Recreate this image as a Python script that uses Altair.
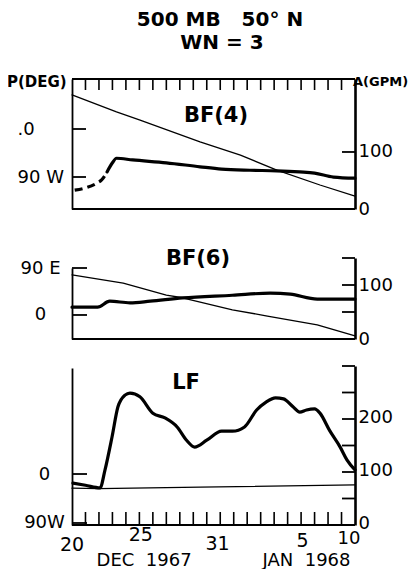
import altair as alt
import pandas as pd

FONT = "DejaVu Sans"
W, H = 283, 446
NB = "\u00a0"

# ---------------- data (day 0 = 20 Dec 1967, day 21 = 10 Jan 1968) ----------------
# BF(4)
bf4_phase_day = [0, 3.3, 5.0, 9.5, 12.5, 15.2, 18.4, 21]
bf4_phase = [64, 32, 17, -24, -49, -77, -105, -126]
bf4_amp_dash_day = [0.2, 1.0, 1.9, 2.2, 2.6]
bf4_amp_dash = [33, 37, 46, 51, 65]
bf4_amp_day = [2.6, 3.0, 3.3, 4.5, 7.0, 9.5, 11.1, 13.2, 15.2, 16.9, 18.0, 19.4, 21]
bf4_amp = [65, 81, 89, 86, 81, 74, 70, 68, 67, 65, 63, 56, 54]

# BF(6)
bf6_phase_day = [0, 3.8, 7.0, 8.2, 11.9, 14.5, 18.2, 21]
bf6_phase = [77, 61, 38, 33, 10, -2, -19, -40]
bf6_amp_day = [0, 1.9, 2.8, 4.3, 5.8, 8.2, 11.9, 14.7, 16.2, 18.2, 21]
bf6_amp = [59, 59, 70, 67, 70, 76, 81, 85, 83, 74, 74]

# LF
lf_phase_day = [0, 2, 9.5, 21]
lf_phase = [-26, -27, -24, -20]
lf_amp_day = [0.07, 1.0, 2.08, 2.45, 2.97, 3.41, 3.93, 4.3, 5.04, 6.0, 6.9, 7.8, 8.5,
              9.1, 10.0, 11.1, 11.9, 12.8, 13.7, 14.4, 15.1, 15.7, 16.4, 16.9, 17.4,
              18.0, 18.4, 19.1, 19.9, 20.4, 21]
lf_amp = [79, 75, 70, 104, 166, 223, 245, 249, 242, 211, 202, 185, 160,
          147, 160, 177, 177, 185, 217, 232, 240, 238, 223, 213, 217,
          219, 211, 179, 147, 123, 104]

# axis ticks / labels
day_ticks = list(range(1, 21))
date_labels = ["20", "25", "31", "5", "10"]
date_label_days = [0, 5.1, 10.8, 17.1, 20.55]
month_labels = ["DEC" + NB * 2 + "1967", "JAN" + NB * 2 + "1968"]
month_label_days = [5.35, 17.4]

p1_left_vals, p1_left_labels = [0, -90], [".0", "90 W"]
p2_left_vals, p2_left_labels = [90, 0], ["90 E", "0"]
p3_left_vals, p3_left_labels = [0, -90], ["0", "90W"]
p1_right_vals, p1_right_labels = [0, 100], ["0", "100"]
p2_right_vals, p2_right_labels = [0, 100], ["0", "100"]
p3_right_vals, p3_right_labels = [0, 100, 200], ["0", "100", "200"]
p1_right_ticks = [100]
p2_right_ticks = [50, 100, 150]
p3_right_ticks = [50, 100, 150, 200, 250, 300]

# ---------------- scales ----------------
xs = alt.Scale(domain=[0, 21], nice=False, zero=False)


def ysc(domain, rng):
    return alt.Scale(domain=domain, range=rng, nice=False, zero=False)


P1_PH = ysc([-150, 93.75], [130, 0])
P1_AM = ysc([0, 228], [130, 0])
P2_PH = ysc([-46, 90], [260, 189])
P2_AM = ysc([0, 150], [260, 179])
P3_PH = ysc([-93.7, 194.8], [446, 289])
P3_AM = ysc([0, 300], [446, 287])


def expr(vals, labels):
    s = "''"
    for v, l in zip(vals, labels):
        s = f"datum.value == {v} ? '{l}' : ({s})"
    return s


def left_axis(vals, labels, align, pad):
    return alt.Axis(orient="left", values=vals, labelExpr=expr(vals, labels),
                    ticks=False, tickSize=0, grid=False, domainColor="black",
                    domainWidth=1.8, labelAlign=align, labelPadding=pad,
                    labelFont=FONT, labelFontSize=18, labelColor="black",
                    labelFlush=False, labelOverlap=False, title=None)


def right_axis(vals, labels, offset=0):
    return alt.Axis(orient="right", values=vals, labelExpr=expr(vals, labels),
                    ticks=False, tickSize=0, grid=False, domainColor="black",
                    domainWidth=2.6, labelAlign="left", labelPadding=3,
                    labelOffset=offset,
                    labelFont=FONT, labelFontSize=18, labelColor="black",
                    labelFlush=False, labelOverlap=False, title=None)


def line(days, vals, scale, width, axis=None, dash=None, interp="monotone"):
    df = pd.DataFrame({"day": days, "v": vals})
    kw = dict(strokeWidth=width, color="black", interpolate=interp,
              strokeCap="round", strokeJoin="round")
    if dash:
        kw["strokeDash"] = dash
        kw["strokeCap"] = "butt"
    return alt.Chart(df).mark_line(**kw).encode(
        x=alt.X("day:Q", scale=xs, axis=None),
        y=alt.Y("v:Q", scale=scale, axis=axis),
    )


def hticks(vals, scale, x0, x1, width=1.8):
    df = pd.DataFrame({"v": vals})
    return alt.Chart(df).mark_rule(color="black", strokeWidth=width).encode(
        y=alt.Y("v:Q", scale=scale, axis=None), x=alt.value(x0), x2=alt.value(x1))


def hline(val, scale, width=1.8):
    df = pd.DataFrame({"v": [val]})
    return alt.Chart(df).mark_rule(color="black", strokeWidth=width).encode(
        y=alt.Y("v:Q", scale=scale, axis=None), x=alt.value(0), x2=alt.value(W))


def text(s, x, y, size, weight="normal", align="center"):
    df = pd.DataFrame({"t": [s]})
    return alt.Chart(df).mark_text(font=FONT, fontSize=size, fontWeight=weight,
                                   align=align, baseline="middle", color="black").encode(
        x=alt.value(x), y=alt.value(y), text="t:N")


def day_text(s, day, y, size):
    df = pd.DataFrame({"t": [s], "day": [day]})
    return alt.Chart(df).mark_text(font=FONT, fontSize=size, align="center",
                                   baseline="middle", color="black").encode(
        x=alt.X("day:Q", scale=xs, axis=None), y=alt.value(y), text="t:N")


THIN, THICK = 1.3, 3.2

layers = [
    # panel 1 BF(4)
    line(bf4_phase_day, bf4_phase, P1_PH, THIN,
         left_axis(p1_left_vals, p1_left_labels, "left", 55), interp="linear"),
    line(bf4_amp_dash_day, bf4_amp_dash, P1_AM, THICK, dash=[8, 5]),
    line(bf4_amp_day, bf4_amp, P1_AM, THICK, right_axis(p1_right_vals, p1_right_labels)),
    hticks(p1_left_vals, P1_PH, 0, 14),
    hticks(p1_right_ticks, P1_AM, W - 13, W),
    hline(0, P1_AM),
    # panel 2 BF(6)
    line(bf6_phase_day, bf6_phase, P2_PH, THIN,
         left_axis(p2_left_vals, p2_left_labels, "center", 32), interp="linear"),
    line(bf6_amp_day, bf6_amp, P2_AM, THICK, right_axis(p2_right_vals, p2_right_labels)),
    hticks(p2_left_vals, P2_PH, 0, 15),
    hticks(p2_right_ticks, P2_AM, W - 13, W),
    hline(0, P2_AM),
    # panel 3 LF
    line(lf_phase_day, lf_phase, P3_PH, THIN,
         left_axis(p3_left_vals, p3_left_labels, "center", 28), interp="linear"),
    line(lf_amp_day, lf_amp, P3_AM, THICK, right_axis(p3_right_vals, p3_right_labels, -2)),
    hticks(p3_left_vals, P3_PH, 0, 15),
    hticks(p3_right_ticks, P3_AM, W - 13, W),
    hline(0, P3_AM, 2),
]

# top frame of panel 1 with day ticks, and bottom day ticks of panel 3
top_df = pd.DataFrame({"day": day_ticks})
layers.append(alt.Chart(pd.DataFrame({"v": [0]})).mark_rule(color="black", strokeWidth=2).encode(
    y=alt.value(0), x=alt.value(0), x2=alt.value(W)))
layers.append(alt.Chart(top_df).mark_rule(color="black", strokeWidth=1.6).encode(
    x=alt.X("day:Q", scale=xs, axis=None), y=alt.value(0), y2=alt.value(11)))
layers.append(alt.Chart(top_df).mark_rule(color="black", strokeWidth=1.6).encode(
    x=alt.X("day:Q", scale=xs, axis=None), y=alt.value(H - 13), y2=alt.value(H)))

# date labels
label_y = [466, 456, 465, 462, 460]
for s, d, yy in zip(date_labels, date_label_days, label_y):
    layers.append(day_text(s, d, yy, 18 if s == "10" else 19))
for s, d in zip(month_labels, month_label_days):
    layers.append(day_text(s, d, 482, 18))

# titles and annotations
layers += [
    text("500" + NB + "MB" + NB * 3 + "50°" + NB + "N", 148, -59, 20, "bold"),
    text("WN = 3", 150, -36, 20, "bold"),
    text("P(DEG)", -65, 3, 15, "bold", "left"),
    text("A(GPM)", 281, 3, 13, "bold", "left"),
    text("BF(4)", 144, 37, 21, "bold"),
    text("BF(6)", 126, 180, 21, "bold"),
    text("LF", 114, 304, 21, "bold"),
]

chart = alt.layer(*layers).resolve_scale(y="independent").properties(
    width=W, height=H,
    autosize=alt.AutoSizeParams(type="none"),
    padding={"left": 64, "top": 71, "right": 53, "bottom": 44},
).configure_view(stroke=None)

chart.save("out.html", embed_options={"renderer": "svg", "actions": False})
